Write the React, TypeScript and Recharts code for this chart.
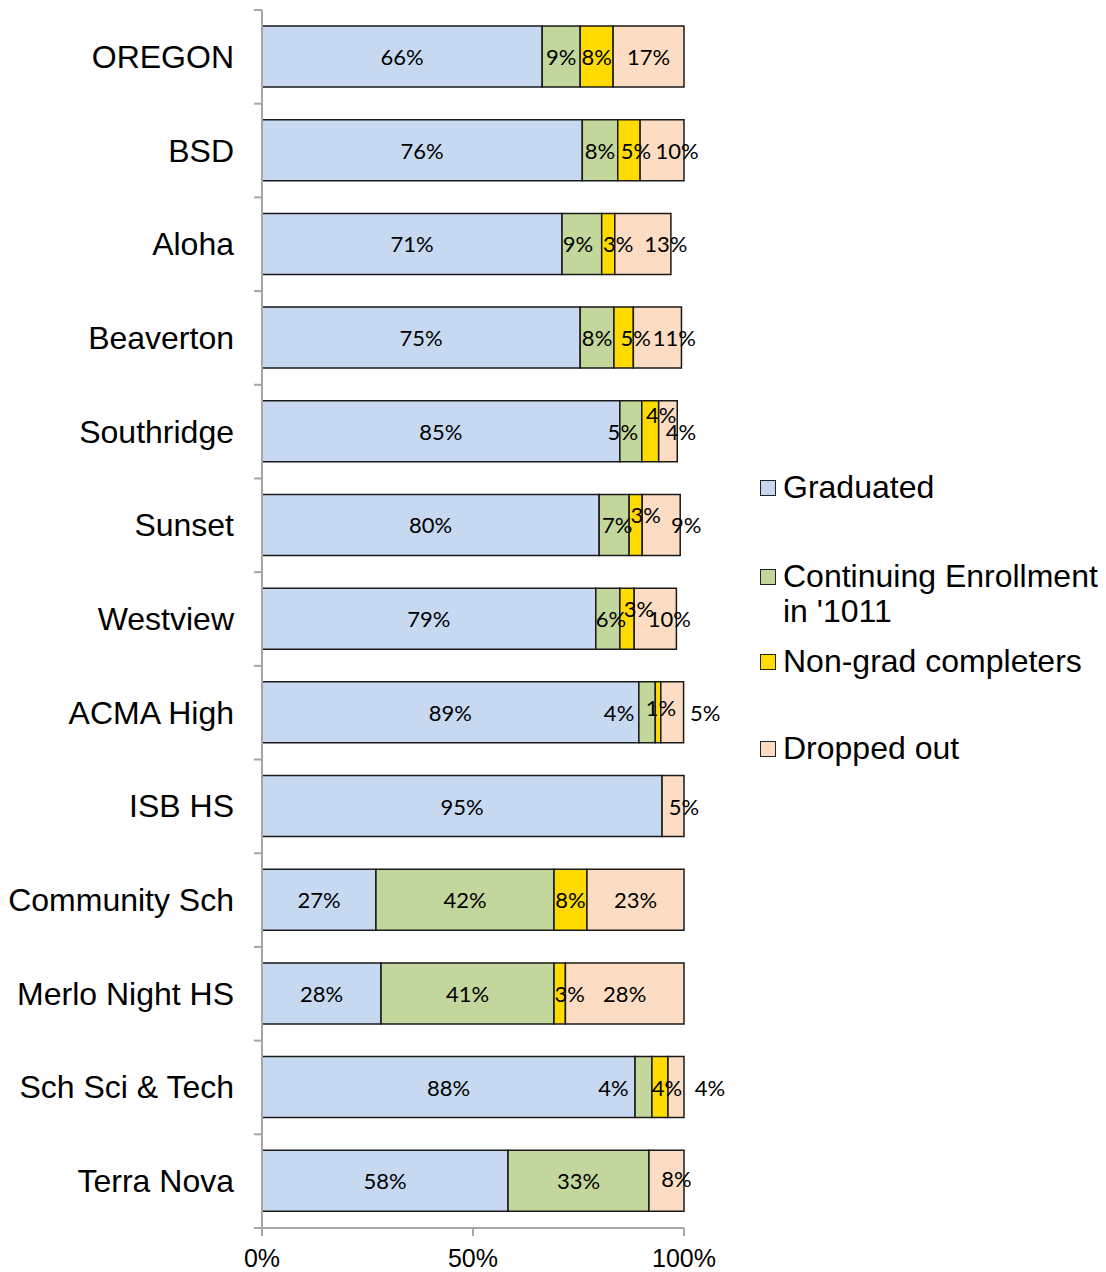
import React from "react"
import { BarChart, Bar, XAxis, YAxis, LabelList } from "recharts"

const schools = [
  "OREGON", "BSD", "Aloha", "Beaverton", "Southridge", "Sunset", "Westview",
  "ACMA High", "ISB HS", "Community Sch", "Merlo Night HS", "Sch Sci & Tech", "Terra Nova",
]
const graduated = [66.4, 75.9, 71.1, 75.4, 84.8, 79.9, 79.1, 89.3, 94.8, 27.0, 28.2, 88.4, 58.3]
const continuing = [9.0, 8.4, 9.4, 8.0, 5.2, 7.1, 5.7, 3.9, 0, 42.2, 41.0, 4.0, 33.4]
const nonGrad = [7.8, 5.3, 3.1, 4.6, 4.0, 3.1, 3.4, 1.3, 0, 7.8, 2.7, 3.8, 0]
const dropped = [16.8, 10.4, 13.3, 11.4, 4.4, 9.0, 10.0, 5.4, 5.2, 23.0, 28.1, 3.8, 8.3]
const xTicks = [0, 50, 100]

const series = [
  { key: "graduated", name: "Graduated", color: "#C6D9F1" },
  { key: "continuing", name: "Continuing Enrollment in '1011", color: "#C3D69B" },
  { key: "nonGrad", name: "Non-grad completers", color: "#FFDB00" },
  { key: "dropped", name: "Dropped out", color: "#FCDDC4" },
]

const data = schools.map((name, i) => ({
  name,
  graduated: graduated[i],
  continuing: continuing[i],
  nonGrad: nonGrad[i],
  dropped: dropped[i],
}))

// hand-moved data labels in the original (dx, dy from segment centre)
const labelNudge: Record<string, [number, number]> = {
  "BSD|nonGrad": [7, 0], "BSD|dropped": [15, 0],
  "Aloha|continuing": [-4, 0], "Aloha|nonGrad": [10, 0], "Aloha|dropped": [23, 0],
  "Beaverton|nonGrad": [12, 0], "Beaverton|dropped": [17, 0],
  "Southridge|continuing": [-8, 0], "Southridge|nonGrad": [11, -17], "Southridge|dropped": [13, 0],
  "Sunset|continuing": [3, 0], "Sunset|nonGrad": [10, -10], "Sunset|dropped": [25, 0],
  "Westview|continuing": [3, 0], "Westview|nonGrad": [12, -10], "Westview|dropped": [14, 0],
  "ACMA High|continuing": [-28, 0], "ACMA High|nonGrad": [3, -5], "ACMA High|dropped": [33, 0],
  "ISB HS|dropped": [11, 0],
  "Merlo Night HS|nonGrad": [10, 0],
  "Sch Sci & Tech|continuing": [-30, 0], "Sch Sci & Tech|nonGrad": [7, 0], "Sch Sci & Tech|dropped": [34, 0],
  "Terra Nova|dropped": [10, -2],
}

const W = 1098
const H = 1264
const PLOT_LEFT = 254
const PLOT_TOP = 2
const PLOT_BOTTOM = 1220
const STEP = (PLOT_BOTTOM - PLOT_TOP) / schools.length
const AXIS = "#A6A6A6"

function SchoolTick(props: any) {
  const { y, payload, index } = props
  const top = y - STEP / 2
  return (
    <g>
      <text x={PLOT_LEFT - 28} y={y} textAnchor="end" dominantBaseline="central"
        fontSize={32} fill="#000">{payload.value}</text>
      <line x1={PLOT_LEFT - 8} x2={PLOT_LEFT} y1={top} y2={top} stroke={AXIS} strokeWidth={2} />
      {index === schools.length - 1 && (
        <line x1={PLOT_LEFT - 8} x2={PLOT_LEFT} y1={top + STEP} y2={top + STEP} stroke={AXIS} strokeWidth={2} />
      )}
    </g>
  )
}

// LabelList gets the school name as value; the segment value is looked up from the row
function makeLabel(seriesKey: string) {
  return function PctLabel(props: any) {
    const { x, y, width, height, value: school } = props
    const row: any = data.find((d) => d.name === school)
    const v = row ? row[seriesKey] : 0
    if (!v) return null
    const [dx, dy] = labelNudge[`${school}|${seriesKey}`] || [0, 0]
    return (
      <text x={x + width / 2 + dx} y={y + height / 2 + dy} textAnchor="middle" dominantBaseline="central"
        fontFamily="Lato, sans-serif" fontSize={22} fill="#000">
        {Math.round(v)}%
      </text>
    )
  }
}

const legendGaps = [54, 15, 52, 0]

function SideLegend() {
  return (
    <div style={{
      position: "absolute", left: 752, top: 462, width: 346,
      fontFamily: "'Liberation Sans', Arial, sans-serif", fontSize: 32, lineHeight: "35px", color: "#000",
      whiteSpace: "nowrap",
    }}>
      {series.map((s, i) => (
        <div key={s.key} style={{ display: "flex", alignItems: "flex-start", marginBottom: legendGaps[i] }}>
          <span style={{
            width: 14, height: 14, marginTop: 10, marginRight: 7, flex: "none",
            background: s.color, border: "1.5px solid #222",
          }} />
          <span>
            {s.key === "continuing" ? <>Continuing Enrollment<br />in '1011</> : s.name}
          </span>
        </div>
      ))}
    </div>
  )
}

export default function App() {
  return (
    <div style={{ position: "relative", width: W, height: H }}>
      <BarChart width={W} height={H} data={data} layout="vertical"
        margin={{ top: PLOT_TOP, right: W - 676, bottom: 0, left: 0 }}
        style={{ fontFamily: "'Liberation Sans', Arial, sans-serif" }}>
        <XAxis type="number" domain={[0, 100]} ticks={xTicks} tickFormatter={(v) => `${v}%`}
          height={H - PLOT_BOTTOM} tickSize={8} tickMargin={13}
          axisLine={{ stroke: AXIS, strokeWidth: 2 }} tickLine={{ stroke: AXIS, strokeWidth: 2 }}
          tick={{ fontSize: 25, fill: "#000" }} />
        <YAxis type="category" dataKey="name" width={PLOT_LEFT} tickLine={false}
          axisLine={{ stroke: AXIS, strokeWidth: 2 }} tick={<SchoolTick />} interval={0} />
        {series.map((s) => {
          const Label = makeLabel(s.key)
          return (
            <Bar key={s.key} dataKey={s.key} name={s.name} stackId="a" fill={s.color}
              stroke="#1a1a1a" strokeWidth={1.5} barSize={61} isAnimationActive={false}>
              <LabelList dataKey="name" content={<Label />} />
            </Bar>
          )
        })}
      </BarChart>
      <SideLegend />
    </div>
  )
}
